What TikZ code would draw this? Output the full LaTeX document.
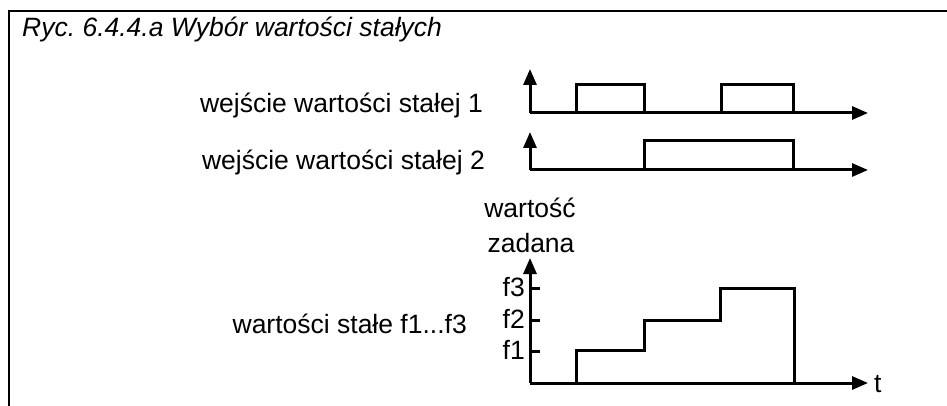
\documentclass[tikz,border=0pt]{standalone}
\usepackage{fontspec}
\setmainfont{Liberation Sans}
\usetikzlibrary{arrows.meta}
\frenchspacing
\begin{document}
\begin{tikzpicture}[x=1pt,y=-1pt,
  sig/.style={line width=3pt, line join=miter, line cap=butt},
  axis/.style={line width=3pt, -{Triangle[length=16pt,width=13pt]}},
  frame/.style={line width=2.2pt},
  lbl/.style={inner sep=0pt, font=\fontsize{26.5}{30}\selectfont},
  ttl/.style={inner sep=0pt, font=\fontsize{26.5}{30}\selectfont\itshape}]
\useasboundingbox (0,0) rectangle (947,406);
% frame
\draw[frame] (9,406) -- (9,11) -- (947,11);
\node[ttl, anchor=base west] (title) at (22,37) {Ryc. 6.4.4.a Wybór wartości stałych};
% signal 1
\coordinate (o1) at (530,113);
\coordinate (y1) at (530,69);
\coordinate (x1) at (868,113);
\draw[axis] (o1) -- (y1);
\draw[axis] (o1) -- (x1);
\draw[sig] (576,113) -- (576,85) -- (644,85) -- (644,113);
\draw[sig] (721,113) -- (721,85) -- (793,85) -- (793,113);
\node[lbl, anchor=base east] (l1) at (483,113) {wejście wartości stałej 1};
% signal 2
\coordinate (o2) at (530,170);
\coordinate (y2) at (530,132);
\coordinate (x2) at (868,170);
\draw[axis] (o2) -- (y2);
\draw[axis] (o2) -- (x2);
\draw[sig] (644,170) -- (644,141) -- (793,141) -- (793,170);
\node[lbl, anchor=base east] (l2) at (485,170) {wejście wartości stałej 2};
% setpoint plot
\coordinate (o3) at (530,383);
\coordinate (y3) at (530,258);
\coordinate (x3) at (868,383);
\draw[axis] (o3) -- (y3);
\draw[axis] (o3) -- (x3);
\node[lbl, anchor=base] (wart) at (530,218) {wartość};
\node[lbl, anchor=base] (zad) at (531,252) {zadana};
\node[lbl, anchor=west] (t) at (874,384) {t};
\foreach \yy/\nm in {288/f3, 320/f2, 351/f1}{
  \draw[sig] (530,\yy) -- (540,\yy);
  \node[lbl, anchor=base east] (\nm) at (525,\yy+8) {\nm};
}
\draw[sig] (576,383) -- (576,350) -- (644,350) -- (644,320) -- (720,320) -- (720,288) -- (794,288) -- (794,383);
\node[lbl, anchor=base east] (l3) at (467,333) {wartości stałe f1...f3};
\end{tikzpicture}
\end{document}
